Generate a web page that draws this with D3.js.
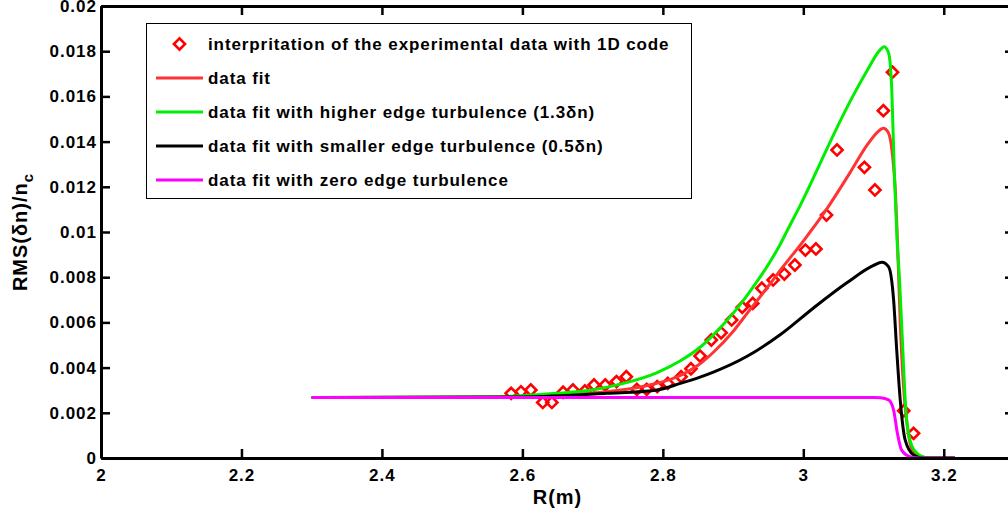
<!DOCTYPE html>
<html lang="en">
<head>
    <meta charset="UTF-8">
    <title>RMS density fluctuation profile</title>
    <style>
        body { margin: 0; background: #fff; }
        svg { display: block; font-family: "Liberation Sans", Arial, sans-serif; font-weight: bold; }
        .axis path { stroke: #000; stroke-width: 3px; }
        .axis line { stroke: #000; stroke-width: 2.5px; }
        .axis text { font-size: 17px; font-weight: bold; fill: #000; letter-spacing: 1px;
                     font-family: "Liberation Sans", Arial, sans-serif; }
        .fit { fill: none; stroke-width: 3px; stroke-linejoin: round; }
        .marker { fill: none; stroke: #ff0000; stroke-width: 2.6px; }
        .legend text { font-size: 17px; fill: #000; letter-spacing: 0.9px; }
        .title { font-size: 20px; fill: #000; letter-spacing: 1px; }
    </style>
</head>
<body>
    <svg id="chart" width="1008" height="515"></svg>
    <script src="https://d3js.org/d3.v7.min.js"></script>
    <script>
        // tick labels
        const xTicks = [2, 2.2, 2.4, 2.6, 2.8, 3, 3.2];
        const yTicks = [0, 0.002, 0.004, 0.006, 0.008, 0.01, 0.012, 0.014, 0.016, 0.018, 0.02];

        // experimental points
        const expR = [2.584, 2.598, 2.612, 2.629, 2.642, 2.658, 2.672, 2.689, 2.702, 2.718,
                      2.734, 2.748, 2.763, 2.777, 2.792, 2.807, 2.826, 2.840, 2.853, 2.869,
                      2.883, 2.898, 2.913, 2.928, 2.941, 2.957, 2.973, 2.988, 3.003, 3.018,
                      3.033, 3.048, 3.087, 3.102, 3.114, 3.127, 3.143, 3.157];
        const expN = [0.00286, 0.00293, 0.00301, 0.00246, 0.00246, 0.00291, 0.00301, 0.00297, 0.00323, 0.00323,
                      0.00338, 0.00360, 0.00304, 0.00304, 0.00316, 0.00330, 0.00360, 0.00395, 0.00451, 0.00522,
                      0.00554, 0.00611, 0.00667, 0.00684, 0.00751, 0.00788, 0.00814, 0.00854, 0.00920, 0.00925,
                      0.01075, 0.01363, 0.01286, 0.01186, 0.01537, 0.01707, 0.00209, 0.00109];

        // data fit
        const fitR = [2.30, 2.55, 2.65, 2.72, 2.78, 2.825, 2.85, 2.872, 2.90, 2.92, 2.95, 2.967, 3.00,
                      3.033, 3.067, 3.091, 3.105, 3.114, 3.121, 3.127, 3.131, 3.134, 3.138, 3.142,
                      3.145, 3.150, 3.155, 3.165, 3.18, 3.216];
        const fitN = [0.00268, 0.00269, 0.00278, 0.00293, 0.00322, 0.00365, 0.00410, 0.00468, 0.00560,
                      0.00640, 0.00760, 0.00830, 0.00960, 0.01100, 0.01265, 0.01385, 0.01440, 0.01459,
                      0.01440, 0.01340, 0.01186, 0.00965, 0.00600, 0.00350, 0.00227, 0.00100, 0.00035,
                      0.00005, 0, 0];

        // higher edge turbulence (1.3 dn)
        const highR = [2.30, 2.55, 2.60, 2.649, 2.697, 2.744, 2.792, 2.825, 2.853, 2.872, 2.90, 2.92,
                       2.95, 2.967, 2.981, 2.996, 3.019, 3.043, 3.067, 3.091, 3.110, 3.1153, 3.1215,
                       3.126, 3.1296, 3.1335, 3.137, 3.1406, 3.1467, 3.155, 3.167, 3.18, 3.216];
        const highN = [0.00268, 0.00270, 0.00275, 0.00286, 0.00300, 0.00330, 0.00378, 0.00430, 0.00490,
                       0.00545, 0.00640, 0.00720, 0.00855, 0.00945, 0.01030, 0.01120, 0.01270, 0.01430,
                       0.01580, 0.01715, 0.01808, 0.01820, 0.01791, 0.01628, 0.01261, 0.00965, 0.00788,
                       0.00552, 0.00183, 0.00050, 0.00010, 0, 0];

        // smaller edge turbulence (0.5 dn)
        const lowR = [2.30, 2.60, 2.72, 2.79, 2.825, 2.853, 2.872, 2.92, 2.967, 3.015, 3.062, 3.100,
                      3.112, 3.1215, 3.1286, 3.133, 3.138, 3.145, 3.157, 3.17, 3.216];
        const lowN = [0.00268, 0.00270, 0.00286, 0.00300, 0.00330, 0.00358, 0.00380, 0.00450, 0.00545,
                      0.00665, 0.00775, 0.00852, 0.00866, 0.00846, 0.00699, 0.00478, 0.00257, 0.00080,
                      0.00013, 0, 0];

        // zero edge turbulence
        const zeroR = [2.30, 3.10, 3.11, 3.1215, 3.1286, 3.134, 3.14, 3.152, 3.165, 3.216];
        const zeroN = [0.00268, 0.00268, 0.00267, 0.00257, 0.00212, 0.00109, 0.00035, 0.00006, 0, 0];

        const legendLabels = [
            "interpritation of the experimental data with 1D code",
            "data fit",
            "data fit with higher edge turbulence (1.3\u03B4n)",
            "data fit with smaller edge turbulence (0.5\u03B4n)",
            "data fit with zero edge turbulence"
        ];
        const seriesColors = ["#ff0000", "#ff3333", "#00ee00", "#000000", "#ff00ff"];

        const svg = d3.select("#chart");
        const x = d3.scaleLinear().domain([2, 3.3]).range([101, 1014]);
        const y = d3.scaleLinear().domain([0, 0.02]).range([458, 6]);

        const zip = (a, b) => a.map((v, i) => [v, b[i]]);

        const line = d3.line()
            .x(d => x(d[0]))
            .y(d => y(d[1]))
            .curve(d3.curveMonotoneX);

        // markers first, then the fits on top (plot order of the original)
        svg.append("g").selectAll("path.marker")
            .data(zip(expR, expN))
            .enter().append("path")
            .attr("class", "marker")
            .attr("d", d3.symbol().type(d3.symbolSquare).size(62))
            .attr("transform", d => "translate(" + x(d[0]) + "," + y(d[1]) + ") rotate(45)");

        const curves = [zip(fitR, fitN), zip(highR, highN), zip(lowR, lowN), zip(zeroR, zeroN)];
        svg.append("g").selectAll("path.fit")
            .data(curves)
            .enter().append("path")
            .attr("class", "fit")
            .attr("stroke", (d, i) => seriesColors[i + 1])
            .attr("d", line);

        // axes, ticks on all four sides pointing inward
        svg.append("g").attr("class", "axis")
            .attr("transform", "translate(0," + y(0) + ")")
            .call(d3.axisBottom(x).tickValues(xTicks).tickFormat(d => d)
                .tickSizeInner(-9).tickSizeOuter(0).tickPadding(11));
        svg.append("g").attr("class", "axis")
            .attr("transform", "translate(0," + y(0.02) + ")")
            .call(d3.axisTop(x).tickValues(xTicks).tickFormat("")
                .tickSizeInner(-9).tickSizeOuter(0));
        svg.append("g").attr("class", "axis")
            .attr("transform", "translate(" + x(2) + ",0)")
            .call(d3.axisLeft(y).tickValues(yTicks).tickFormat(d => d)
                .tickSizeInner(-9).tickSizeOuter(0).tickPadding(4));
        svg.append("g").attr("class", "axis")
            .attr("transform", "translate(" + x(3.3) + ",0)")
            .call(d3.axisRight(y).tickValues(yTicks).tickFormat("")
                .tickSizeInner(-9).tickSizeOuter(0));

        // axis titles
        svg.append("text")
            .attr("class", "title")
            .attr("x", (x(2) + x(3.3)) / 2)
            .attr("y", 504)
            .attr("text-anchor", "middle")
            .text("R(m)");

        const yl = svg.append("text")
            .attr("class", "title")
            .attr("transform", "translate(27," + (y(0) + y(0.02)) / 2 + ") rotate(-90)")
            .attr("text-anchor", "middle");
        yl.append("tspan").text("RMS(\u03B4n)/n");
        yl.append("tspan").attr("dy", 6).style("font-size", "15px").text("c");

        // legend
        const lg = svg.append("g").attr("class", "legend");
        lg.append("rect")
            .attr("x", 146.5).attr("y", 23.5)
            .attr("width", 545).attr("height", 175)
            .attr("fill", "#fff").attr("stroke", "#000").attr("stroke-width", 1);

        const rows = lg.selectAll("g.row")
            .data(legendLabels)
            .enter().append("g")
            .attr("class", "row")
            .attr("transform", (d, i) => "translate(0," + (44 + i * 34) + ")");

        rows.filter((d, i) => i === 0).append("path")
            .attr("class", "marker")
            .attr("d", d3.symbol().type(d3.symbolSquare).size(62))
            .attr("transform", "translate(179.5,0) rotate(45)");
        rows.filter((d, i) => i > 0).append("line")
            .attr("x1", 156).attr("x2", 203)
            .attr("stroke", (d, i) => seriesColors[i + 1])
            .attr("stroke-width", 3);
        rows.append("text")
            .attr("x", 208)
            .attr("dy", "0.35em")
            .text(d => d);
    </script>
</body>
</html>
